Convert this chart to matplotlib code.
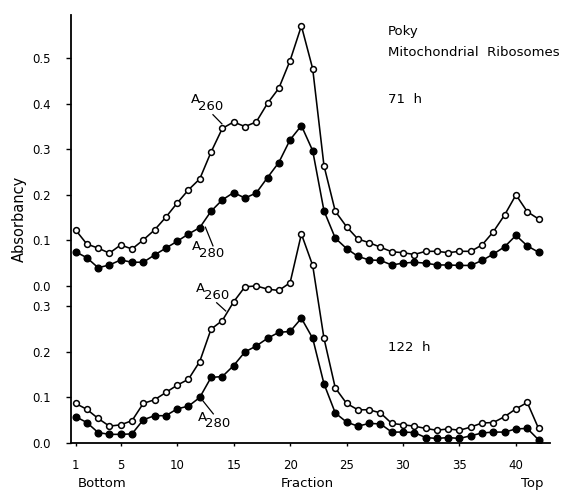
import numpy as np
import matplotlib
matplotlib.use('Agg')
import matplotlib.pyplot as plt

# ==========================================
# Data
# ==========================================
fractions = np.arange(1, 43)

# 71 h (upper profile)
a260_71h = [0.123, 0.092, 0.083, 0.072, 0.090, 0.081, 0.101, 0.123, 0.151, 0.182,
            0.211, 0.235, 0.294, 0.346, 0.360, 0.350, 0.360, 0.401, 0.434, 0.495,
            0.571, 0.477, 0.264, 0.164, 0.130, 0.103, 0.095, 0.085, 0.075, 0.073,
            0.069, 0.076, 0.076, 0.073, 0.076, 0.076, 0.090, 0.119, 0.156, 0.200,
            0.163, 0.147]
a280_71h = [0.075, 0.062, 0.040, 0.046, 0.057, 0.052, 0.052, 0.068, 0.083, 0.098,
            0.114, 0.128, 0.164, 0.189, 0.205, 0.193, 0.204, 0.238, 0.271, 0.321,
            0.352, 0.297, 0.165, 0.105, 0.082, 0.065, 0.057, 0.056, 0.046, 0.050,
            0.052, 0.050, 0.046, 0.046, 0.045, 0.045, 0.056, 0.070, 0.086, 0.111,
            0.088, 0.074]

# 122 h (lower profile)
a260_122h = [0.087, 0.074, 0.054, 0.037, 0.040, 0.049, 0.087, 0.095, 0.111, 0.127,
             0.140, 0.179, 0.250, 0.269, 0.310, 0.343, 0.345, 0.338, 0.335, 0.352,
             0.459, 0.390, 0.230, 0.121, 0.087, 0.073, 0.073, 0.066, 0.043, 0.040,
             0.037, 0.032, 0.028, 0.031, 0.028, 0.035, 0.044, 0.045, 0.058, 0.075,
             0.089, 0.032]
a280_122h = [0.058, 0.045, 0.023, 0.019, 0.019, 0.020, 0.051, 0.060, 0.060, 0.075,
             0.081, 0.100, 0.144, 0.146, 0.170, 0.200, 0.213, 0.230, 0.243, 0.245,
             0.274, 0.230, 0.130, 0.066, 0.046, 0.037, 0.043, 0.042, 0.024, 0.024,
             0.023, 0.012, 0.010, 0.012, 0.010, 0.016, 0.022, 0.024, 0.024, 0.031,
             0.032, 0.007]

upper_ticks = [0.0, 0.1, 0.2, 0.3, 0.4, 0.5]
lower_ticks = [0.0, 0.1, 0.2, 0.3]
x_ticks = [1, 5, 10, 15, 20, 25, 30, 35, 40]

# upper panel is stacked on top of the lower one, sharing the same axis
OFFSET = 0.345

# ==========================================
# Figure
# ==========================================
plt.rcParams['font.family'] = ['DejaVu Sans']
fig = plt.figure(figsize=(5.64, 4.90), dpi=100)
ax = fig.add_axes([0.1259, 0.0959, 0.849, 0.8735])

up = np.array(a260_71h) + OFFSET
up2 = np.array(a280_71h) + OFFSET

line_kw = dict(color='black', linewidth=1.15)
open_kw = dict(marker='o', markersize=4.2, markerfacecolor='white',
               markeredgecolor='black', markeredgewidth=1.1)
fill_kw = dict(marker='o', markersize=4.8, markerfacecolor='black',
               markeredgecolor='black')

ax.plot(fractions, a280_122h, **line_kw, **fill_kw, zorder=3)
ax.plot(fractions, a260_122h, **line_kw, **open_kw, zorder=4)
ax.plot(fractions, up2, **line_kw, **fill_kw, zorder=3)
ax.plot(fractions, up, **line_kw, **open_kw, zorder=4)

ax.set_xlim(0.6, 43.0)
ax.set_ylim(0, 0.94)

for s in ['top', 'right']:
    ax.spines[s].set_visible(False)
ax.spines['left'].set_linewidth(1.3)
ax.spines['bottom'].set_linewidth(1.3)

ytick_pos = lower_ticks + [t + OFFSET for t in upper_ticks]
ytick_lab = [f'{t:.1f}' for t in lower_ticks] + [f'{t:.1f}' for t in upper_ticks]
ax.set_yticks(ytick_pos)
ax.set_yticklabels(ytick_lab)
ax.set_xticks(x_ticks)
ax.tick_params(axis='y', direction='out', length=3.5, width=1.0, pad=11, labelsize=8.5)
ax.tick_params(axis='x', direction='out', length=2.5, width=1.0, pad=9, labelsize=8.5)


def label(x, y, sub, x0, y0, x1, y1):
    # "A" with a large subscript, plus a short leader line to the curve
    ax.text(x, y, 'A', fontsize=9.5, ha='center', va='center')
    ax.annotate(sub, xy=(x, y), xytext=(11, -5), textcoords='offset points',
                fontsize=9.5, ha='center', va='center')
    ax.plot([x0, x1], [y0, y1], color='black', linewidth=0.9)


label(11.6, 0.754, '260', 13.17, 0.721, 13.96, 0.701)
label(11.7, 0.431, '280', 12.5, 0.474, 13.17, 0.433)
label(12.1, 0.340, '260', 13.5, 0.308, 14.3, 0.290)
label(12.2, 0.057, '280', 12.3, 0.092, 13.2, 0.064)

fig.text(0.688, 0.935, 'Poky', fontsize=9.5, va='center')
fig.text(0.688, 0.892, 'Mitochondrial  Ribosomes', fontsize=9.5, va='center')
fig.text(0.688, 0.796, '71  h', fontsize=9.5, va='center')
fig.text(0.688, 0.290, '122  h', fontsize=9.5, va='center')
fig.text(0.035, 0.553, 'Absorbancy', fontsize=10.5, rotation=90, ha='center', va='center')
fig.text(0.137, 0.014, 'Bottom', fontsize=9.5, ha='left', va='center')
fig.text(0.545, 0.014, 'Fraction', fontsize=9.5, ha='center', va='center')
fig.text(0.944, 0.014, 'Top', fontsize=9.5, ha='center', va='center')

fig.savefig('out.png', dpi=100)
